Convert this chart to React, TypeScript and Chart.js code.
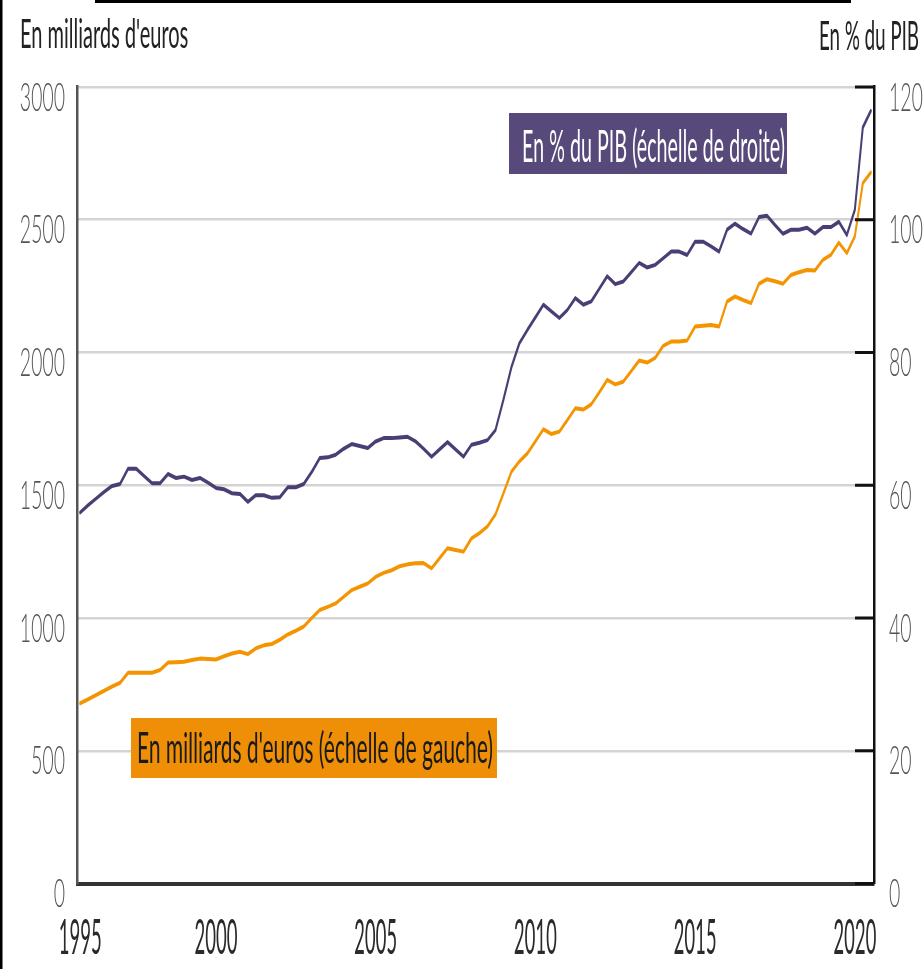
import React, { useEffect, useRef } from 'react';
import { Chart, registerables } from 'chart.js';

Chart.register(...registerables);

// ---- Data (quarterly, 1995T4 -> 2020T3) ----
const START_YEAR = 1995;
const START_QUARTER = 4;
const N_QUARTERS = 100;
const quarters: string[] = Array.from({ length: N_QUARTERS }, (_, i) => {
  const q = START_QUARTER - 1 + i;
  return `${START_YEAR + Math.floor(q / 4)}T${(q % 4) + 1}`;
});

// Debt in billions of euros (left scale)
const debtBillions: number[] = [
  679, 694, 710, 726, 742, 756, 794, 794, 794, 794,
  804, 832, 833, 835, 842, 847, 846, 844, 856, 866,
  873, 864, 886, 897, 902, 918, 938, 952, 968, 1000,
  1030, 1042, 1055, 1080, 1105, 1118, 1130, 1155, 1170, 1180,
  1195, 1202, 1206, 1207, 1187, 1225, 1263, 1256, 1250, 1300,
  1320, 1345, 1390, 1470, 1551, 1590, 1620, 1665, 1711, 1693,
  1702, 1745, 1790, 1785, 1805, 1850, 1897, 1880, 1890, 1930,
  1970, 1962, 1980, 2025, 2041, 2041, 2045, 2098, 2101, 2104,
  2098, 2192, 2211, 2198, 2186, 2259, 2276, 2268, 2259, 2292,
  2302, 2311, 2309, 2349, 2368, 2414, 2374, 2437, 2638, 2678,
];

// Debt in % of GDP (right scale)
const debtPctGdp: number[] = [
  55.9, 57.0, 58.0, 59.0, 59.9, 60.2, 62.5, 62.5, 61.4, 60.3,
  60.3, 61.7, 61.1, 61.3, 60.8, 61.1, 60.4, 59.6, 59.4, 58.8,
  58.7, 57.5, 58.5, 58.5, 58.1, 58.2, 59.7, 59.7, 60.2, 62.0,
  64.1, 64.2, 64.6, 65.5, 66.2, 65.9, 65.6, 66.6, 67.1, 67.1,
  67.2, 67.3, 66.6, 65.5, 64.3, 65.4, 66.5, 65.4, 64.3, 66.1,
  66.4, 66.8, 68.3, 72.9, 77.8, 81.4, 83.4, 85.3, 87.2, 86.2,
  85.2, 86.4, 88.2, 87.2, 87.7, 89.6, 91.5, 90.3, 90.7, 92.1,
  93.5, 92.8, 93.2, 94.2, 95.2, 95.2, 94.7, 96.7, 96.7, 96.0,
  95.2, 98.5, 99.4, 98.6, 97.9, 100.4, 100.6, 99.2, 97.9, 98.5,
  98.5, 98.8, 97.9, 98.9, 98.9, 99.7, 97.7, 101.5, 113.9, 116.4,
];

const tickYears: string[] = ['1995', '2000', '2005', '2010', '2015', '2020'];
const tickIndexes: number[] = tickYears.map((y, k) =>
  k === 0 ? 0 : quarters.indexOf(`${y}T1`)
);

const leftTitle = "En milliards d'euros";
const rightTitle = 'En % du PIB';
const pctLabel = 'En % du PIB (échelle de droite)';
const eurLabel = "En milliards d'euros (échelle de gauche)";

// ---- Rendering geometry (internal canvas is compressed horizontally x0.5) ----
const CW = 1848;
const CH = 969;

const PURPLE_LINE = '#4b3e75';
const PURPLE_BOX = '#574a7b';
const ORANGE_LINE = '#f39400';
const ORANGE_BOX = '#ef8f08';

const decorPlugin = {
  id: 'decor',
  afterDraw(chart: any) {
    const { ctx, chartArea, scales } = chart;
    ctx.save();
    // inward ticks on right axis
    const y2 = scales.y2;
    ctx.fillStyle = '#111';
    y2.ticks.forEach((t: any) => {
      const py = y2.getPixelForValue(t.value);
      ctx.fillRect(chartArea.right - 38, py - 1.5, 38, 3);
    });

    // x-axis year labels (condensed to the reference width)
    const xs = scales.x;
    ctx.fillStyle = '#2a2a2a';
    ctx.font = '400 49px Lato';
    ctx.textAlign = 'center';
    ctx.textBaseline = 'alphabetic';
    tickIndexes.forEach((idx, k) => {
      const px = xs.getPixelForValue(idx);
      ctx.fillText(tickYears[k], px, 954, 86);
    });

    // label boxes
    ctx.fillStyle = PURPLE_BOX;
    ctx.fillRect(1018, 113, 556, 61);
    ctx.fillStyle = '#ffffff';
    ctx.textAlign = 'left';
    ctx.font = '400 45px Lato';
    ctx.fillText(pctLabel, 1044, 162, 526);

    ctx.fillStyle = ORANGE_BOX;
    ctx.fillRect(262, 718, 732, 60);
    ctx.fillStyle = '#1a1a1a';
    ctx.font = '400 43px Lato';
    ctx.fillText(eurLabel, 274, 763, 712);

    // axis titles
    ctx.fillStyle = '#222';
    ctx.font = '400 40px Lato';
    ctx.textAlign = 'left';
    ctx.fillText(leftTitle, 40, 48, 344);
    ctx.textAlign = 'right';
    ctx.fillText(rightTitle, 1838, 50, 200);

    // frame
    ctx.fillStyle = '#000';
    ctx.fillRect(0, 0, 5, CH);
    ctx.fillRect(190, 0, 1512, 3);
    ctx.restore();
  },
};

export default function App() {
  const ref = useRef<HTMLCanvasElement>(null);

  useEffect(() => {
    if (!ref.current) return;
    const chart = new Chart(ref.current, {
      type: 'line',
      data: {
        datasets: [
          {
            label: eurLabel,
            data: debtBillions.map((v, i) => ({ x: i, y: v })),
            borderColor: ORANGE_LINE,
            borderWidth: 4,
            yAxisID: 'y',
            pointRadius: 0,
            tension: 0,
            order: 2,
          },
          {
            label: pctLabel,
            data: debtPctGdp.map((v, i) => ({ x: i, y: v })),
            borderColor: PURPLE_LINE,
            borderWidth: 4,
            yAxisID: 'y2',
            pointRadius: 0,
            tension: 0,
            order: 1,
          },
        ],
      },
      options: {
        responsive: false,
        animation: false,
        devicePixelRatio: 1,
        events: [],
        layout: { padding: { top: 87, left: 0, right: 0, bottom: 0 } },
        elements: {
          line: { borderJoinStyle: 'round', borderCapStyle: 'round' },
          point: { radius: 0 },
        },
        plugins: {
          legend: { display: false },
          tooltip: { enabled: false },
          title: { display: false },
        },
        scales: {
          x: {
            type: 'linear',
            min: -0.4,
            max: N_QUARTERS - 0.6,
            grid: { display: false, drawTicks: false },
            border: { display: true, color: '#333', width: 4 },
            afterBuildTicks: (s: any) => {
              s.ticks = tickIndexes.map((v) => ({ value: v }));
            },
            afterFit: (s: any) => {
              s.height = CH - 883.5;
            },
            ticks: {
              display: false,
              autoSkip: false,
              maxRotation: 0,
              callback: (v: any) => {
                const k = tickIndexes.indexOf(Number(v));
                return k >= 0 ? tickYears[k] : '';
              },
            },
          },
          y: {
            position: 'left',
            min: 0,
            max: 3000,
            afterFit: (s: any) => {
              s.width = 154;
            },
            ticks: {
              stepSize: 500,
              padding: 24,
              labelOffset: 11,
              color: '#555',
              font: { family: 'Lato', size: 39, weight: '300' },
              callback: (v: any) => String(v),
            },
            grid: { color: '#d4d4d4', lineWidth: 2.5, drawTicks: false },
            border: { display: true, color: '#555', width: 5 },
          },
          y2: {
            position: 'right',
            min: 0,
            max: 120,
            afterFit: (s: any) => {
              s.width = CW - 1748;
            },
            ticks: {
              stepSize: 20,
              padding: 30,
              labelOffset: 11,
              color: '#555',
              font: { family: 'Lato', size: 39, weight: '300' },
              callback: (v: any) => String(v),
            },
            grid: { display: false, drawTicks: false },
            border: { display: true, color: '#111', width: 5 },
          },
        },
      } as any,
      plugins: [decorPlugin],
    });

    const fonts: any = (document as any).fonts;
    if (fonts && fonts.ready) {
      fonts.ready.then(() => {
        try {
          chart.update('none');
        } catch (e) {}
      });
    }
    return () => {
      chart.destroy();
    };
  }, []);

  return (
    <div
      style={{
        position: 'absolute',
        left: 0,
        top: 0,
        width: 924,
        height: 969,
        background: '#fff',
      }}
    >
      <canvas
        ref={ref}
        width={CW}
        height={CH}
        style={{ width: '924px', height: '969px', display: 'block' }}
      />
    </div>
  );
}
